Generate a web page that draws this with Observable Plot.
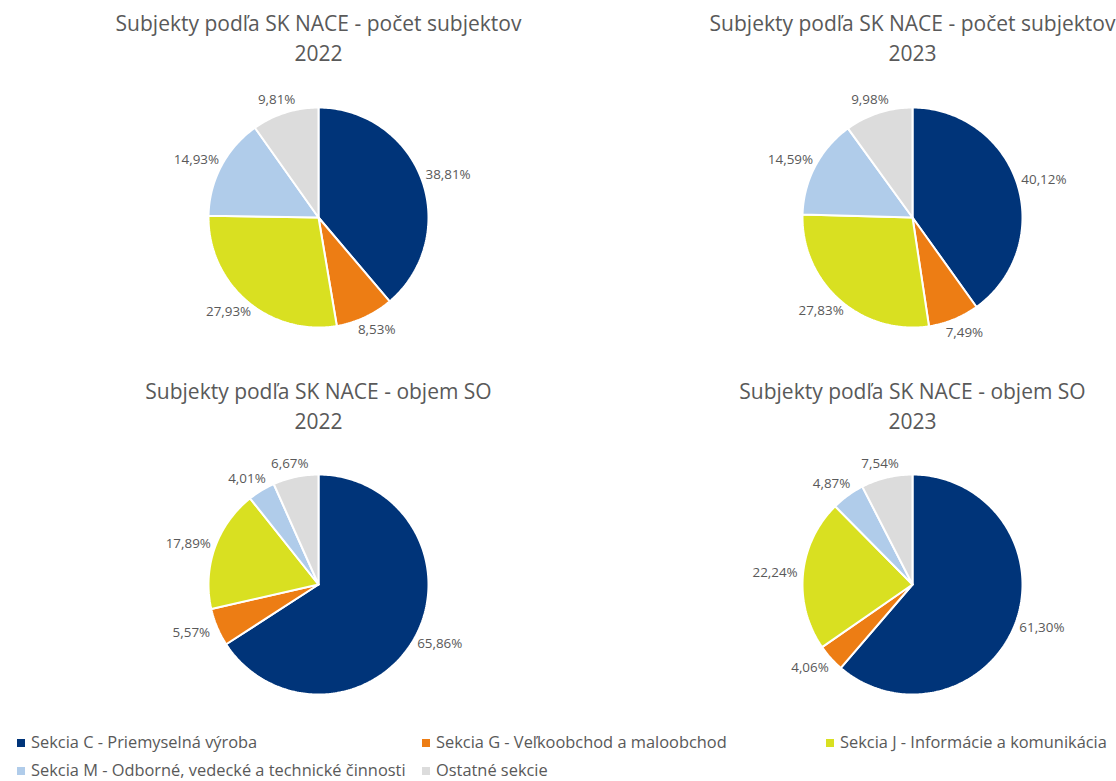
<!DOCTYPE html>
<html>
<head>
<meta charset="utf-8">
<script src="https://cdn.jsdelivr.net/npm/d3@7"></script>
<script src="https://cdn.jsdelivr.net/npm/@observablehq/plot@0.6"></script>
<style>
  html, body { margin: 0; padding: 0; background: #fff; overflow: hidden; }
  #wrap { position: relative; width: 1116px; height: 781px; font-family: "Open Sans", Lato, sans-serif; color: #595959; }
  #legend { position: absolute; left: 0; top: 728px; width: 1116px; }
  .row { position: relative; height: 28px; }
  .item { position: absolute; top: 0; line-height: 28px; font-size: 16.4px; white-space: nowrap; }
  .sw { display: inline-block; width: 8px; height: 8px; margin-right: 6px; vertical-align: middle; position: relative; top: -1px; }
</style>
</head>
<body>
<div id="wrap"><div id="chart"></div><div id="legend"></div></div>
<script>
// ---- data ----
const categories = [
  "Sekcia C - Priemyselná výroba",
  "Sekcia G - Veľkoobchod a maloobchod",
  "Sekcia J - Informácie a komunikácia",
  "Sekcia M - Odborné, vedecké a technické činnosti",
  "Ostatné sekcie"
];
const colors = ["#003479", "#ED7D14", "#D9E021", "#B0CCEA", "#DCDCDC"];
const count2022 = [38.81, 8.53, 27.93, 14.93, 9.81];
const count2023 = [40.12, 7.49, 27.83, 14.59, 9.98];
const volume2022 = [65.86, 5.57, 17.89, 4.01, 6.67];
const volume2023 = [61.30, 4.06, 22.24, 4.87, 7.54];
const titleCount = "Subjekty podľa SK NACE - počet subjektov";
const titleVolume = "Subjekty podľa SK NACE - objem SO";
const years = ["2022", "2023"];

// ---- layout ----
const W = 1116, H = 727;
const R = 110, RX = 138, RY = 124;
const colX = [318, 912], rowY = [217, 584], titleY = [36, 404];
const panels = [
  {title: titleCount, year: years[0], values: count2022, cx: colX[0], cy: rowY[0], ty: titleY[0]},
  {title: titleCount, year: years[1], values: count2023, cx: colX[1], cy: rowY[0], ty: titleY[0]},
  {title: titleVolume, year: years[0], values: volume2022, cx: colX[0], cy: rowY[1], ty: titleY[1]},
  {title: titleVolume, year: years[1], values: volume2023, cx: colX[1], cy: rowY[1], ty: titleY[1]}
];

const slicePts = [], labels = [], titles = [];
panels.forEach((p, pi) => {
  const arcs = d3.pie().sort(null).value(d => d)(p.values);
  arcs.forEach((a, i) => {
    const key = pi + "-" + i;
    const cat = categories[i];
    slicePts.push({key, cat, x: p.cx, y: p.cy});
    const n = Math.max(2, Math.ceil((a.endAngle - a.startAngle) / (Math.PI / 180)) + 1);
    for (let k = 0; k < n; k++) {
      const t = a.startAngle + (a.endAngle - a.startAngle) * k / (n - 1);
      slicePts.push({key, cat, x: p.cx + R * Math.sin(t), y: p.cy - R * Math.cos(t)});
    }
    slicePts.push({key, cat, x: p.cx, y: p.cy});
    const m = (a.startAngle + a.endAngle) / 2;
    labels.push({
      x: p.cx + RX * Math.sin(m),
      y: p.cy - RY * Math.cos(m),
      text: p.values[i].toFixed(2).replace(".", ",") + "%"
    });
  });
  titles.push({x: p.cx, y: p.ty, text: p.title + "\n" + p.year});
});

const chart = Plot.plot({
  width: W,
  height: H,
  margin: 0,
  x: {domain: [0, W], range: [0, W], axis: null},
  y: {domain: [0, H], range: [0, H], axis: null},
  color: {domain: categories, range: colors},
  style: {fontFamily: "'Open Sans', Lato, sans-serif", background: "#fff", color: "#595959"},
  marks: [
    Plot.line(slicePts, {x: "x", y: "y", z: "key", fill: "cat", stroke: "#fff", strokeWidth: 2, strokeLinejoin: "miter", curve: "linear"}),
    Plot.text(labels, {x: "x", y: "y", text: "text", fill: "#595959", fontSize: 13.4}),
    Plot.text(titles, {x: "x", y: "y", text: "text", fill: "#595959", fontSize: 21, lineHeight: 1.43, lineAnchor: "middle"})
  ]
});
document.getElementById("chart").appendChild(chart);

// ---- legend ----
const legend = document.getElementById("legend");
const legendCols = [17, 422, 826];
const rows = [[0, 1, 2], [3, 4]];
rows.forEach(r => {
  const row = document.createElement("div");
  row.className = "row";
  r.forEach((ci, j) => {
    const it = document.createElement("div");
    it.className = "item";
    it.style.left = legendCols[j] + "px";
    const sw = document.createElement("span");
    sw.className = "sw";
    sw.style.background = colors[ci];
    it.appendChild(sw);
    it.appendChild(document.createTextNode(categories[ci]));
    row.appendChild(it);
  });
  legend.appendChild(row);
});
</script>
</body>
</html>
